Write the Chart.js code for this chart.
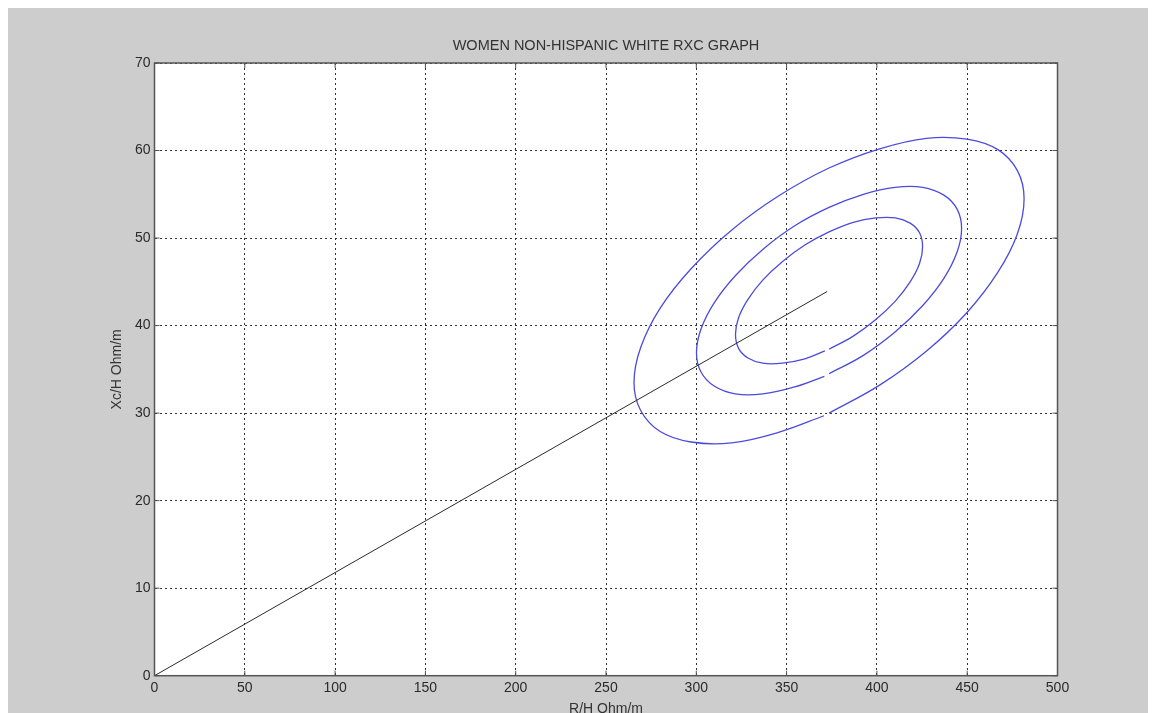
<!DOCTYPE html>
<html>
<head>
<meta charset="utf-8">
<title>RXc graph</title>
<script src="https://cdn.jsdelivr.net/npm/chart.js@4.4.1/dist/chart.umd.min.js"></script>
<style>
  body { margin: 8px; background: #ffffff; }
  #frame { width: 1148px; height: 705px; overflow: hidden; background: #cdcdcd; }
  canvas { display: block; }
</style>
</head>
<body>
<div id="frame">
  <canvas id="rxcChart" width="1148" height="715"></canvas>
</div>
<script>
// axis ticks
const rTicks = [0, 50, 100, 150, 200, 250, 300, 350, 400, 450, 500];
const xcTicks = [0, 10, 20, 30, 40, 50, 60, 70];

// vector line from the origin to the mean point
const vectorR = [0, 372.5];
const vectorXc = [0, 43.9];

// 95% tolerance ellipse (starts and ends just under the mean point)
const outerR = [373.5, 401.5, 427.5, 449.9, 467.0, 477.8, 481.5, 477.8, 467.0, 449.9, 427.5, 401.5, 373.5, 345.5, 319.5, 297.1, 280.0, 269.2, 265.5, 269.2, 280.0, 297.1, 319.5, 345.5, 370.7];
const outerXc = [30.0, 33.2, 37.1, 41.5, 46.1, 50.5, 54.5, 57.7, 60.1, 61.3, 61.4, 60.2, 58.0, 54.8, 50.9, 46.5, 42.0, 37.5, 33.5, 30.3, 27.9, 26.7, 26.6, 27.8, 29.7];

// 75% tolerance ellipse
const middleR = [373.5, 392.5, 410.2, 425.4, 437.1, 444.4, 446.9, 444.4, 437.1, 425.4, 410.2, 392.5, 373.5, 354.5, 336.8, 321.6, 309.9, 302.6, 300.1, 302.6, 309.9, 321.6, 336.8, 354.5, 370.9];
const middleXc = [34.5, 36.6, 39.3, 42.3, 45.4, 48.4, 51.1, 53.3, 54.9, 55.8, 55.8, 55.0, 53.5, 51.4, 48.7, 45.7, 42.6, 39.6, 36.9, 34.7, 33.1, 32.2, 32.2, 33.0, 34.2];

// 50% tolerance ellipse
const innerR = [373.5, 386.9, 399.4, 410.2, 418.4, 423.6, 425.3, 423.6, 418.4, 410.2, 399.4, 386.9, 373.5, 360.1, 347.6, 336.8, 328.6, 323.4, 321.7, 323.4, 328.6, 336.8, 347.6, 360.1, 371.2];
const innerXc = [37.3, 38.8, 40.7, 42.8, 45.0, 47.1, 49.0, 50.6, 51.7, 52.3, 52.3, 51.8, 50.7, 49.2, 47.3, 45.2, 43.0, 40.9, 39.0, 37.4, 36.3, 35.7, 35.7, 36.2, 37.1];

function toPoints(rs, xcs) {
    return rs.map((r, i) => ({x: r, y: xcs[i]}));
}

// white plot area, then the box with inward ticks on all four sides
const plotBox = {
    id: 'plotBox',
    beforeDraw(chart) {
        const {ctx, chartArea: a} = chart;
        ctx.save();
        ctx.fillStyle = '#ffffff';
        ctx.fillRect(a.left, a.top, a.right - a.left, a.bottom - a.top);
        ctx.restore();
    },
    afterDatasetsDraw(chart) {
        const {ctx, chartArea: a, scales} = chart;
        ctx.save();
        ctx.strokeStyle = '#555555';
        ctx.lineWidth = 1;
        ctx.beginPath();
        rTicks.forEach(v => {
            const px = scales.x.getPixelForValue(v);
            ctx.moveTo(px, a.bottom); ctx.lineTo(px, a.bottom - 5);
            ctx.moveTo(px, a.top); ctx.lineTo(px, a.top + 5);
        });
        xcTicks.forEach(v => {
            const py = scales.y.getPixelForValue(v);
            ctx.moveTo(a.left, py); ctx.lineTo(a.left + 5, py);
            ctx.moveTo(a.right, py); ctx.lineTo(a.right - 5, py);
        });
        ctx.stroke();
        ctx.lineWidth = 1.5;
        ctx.strokeRect(a.left, a.top, a.right - a.left, a.bottom - a.top);
        ctx.restore();
    }
};

function ellipseSet(label, rs, xcs) {
    return {
        label: label,
        data: toPoints(rs, xcs),
        showLine: true,
        borderColor: '#4b4bdc',
        borderWidth: 1.3,
        pointRadius: 0,
        tension: 0.38
    };
}

function draw_graph() {
    const data = {
        datasets: [
            {
                label: 'vector',
                data: toPoints(vectorR, vectorXc),
                showLine: true,
                borderColor: '#2a2a2a',
                borderWidth: 1,
                pointRadius: 0
            },
            ellipseSet('95%', outerR, outerXc),
            ellipseSet('75%', middleR, middleXc),
            ellipseSet('50%', innerR, innerXc)
        ]
    };

    const tickFont = {family: 'Liberation Sans', size: 14};

    const config = {
        type: 'scatter',
        data: data,
        plugins: [plotBox],
        options: {
            responsive: false,
            animation: false,
            devicePixelRatio: 1,
            layout: {padding: {left: 0, right: 98.5, top: 0, bottom: 0}},
            plugins: {
                legend: {display: false},
                tooltip: {enabled: false},
                title: {
                    display: true,
                    fullSize: false,
                    text: 'WOMEN NON-HISPANIC WHITE RXC GRAPH',
                    color: '#333333',
                    font: {family: 'Liberation Sans', size: 14.5, weight: 'normal'},
                    padding: {top: 29.3, bottom: 8.3}
                }
            },
            scales: {
                x: {
                    type: 'linear',
                    min: 0,
                    max: 500,
                    afterBuildTicks: s => { s.ticks = rTicks.map(v => ({value: v})); },
                    afterFit: s => { s.height = 47.3; },
                    ticks: {color: '#2a2a2a', font: tickFont, padding: 4, maxRotation: 0},
                    grid: {color: '#333333', lineWidth: 1, drawTicks: false},
                    border: {color: '#555555', dash: [2, 3]},
                    title: {
                        display: true,
                        text: 'R/H Ohm/m',
                        color: '#333333',
                        font: tickFont,
                        padding: {top: 0, bottom: 5.6}
                    }
                },
                y: {
                    type: 'linear',
                    min: 0,
                    max: 70,
                    afterBuildTicks: s => { s.ticks = xcTicks.map(v => ({value: v})); },
                    afterFit: s => { s.width = 146.5; },
                    ticks: {color: '#2a2a2a', font: tickFont, padding: 4},
                    grid: {color: '#333333', lineWidth: 1, drawTicks: false},
                    border: {color: '#555555', dash: [2, 3]},
                    title: {
                        display: true,
                        text: 'Xc/H Ohm/m',
                        color: '#333333',
                        font: tickFont,
                        padding: {top: 100.6, bottom: 0}
                    }
                }
            }
        }
    };

    var myChart = new Chart(
        document.getElementById('rxcChart'),
        config
    );
}

draw_graph();
</script>
</body>
</html>
